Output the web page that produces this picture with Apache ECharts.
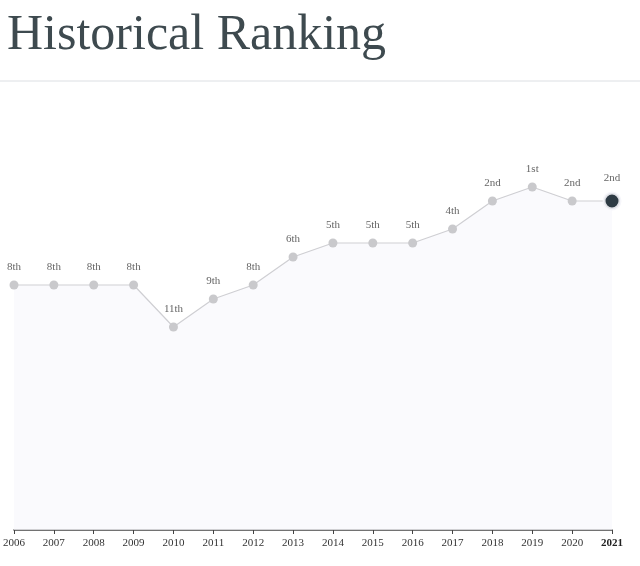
<!DOCTYPE html>
<html>
<head>
<meta charset="utf-8">
<script src="https://cdn.jsdelivr.net/npm/echarts@6/dist/echarts.min.js"></script>
<style>
  body { margin: 0; background: #fff; }
  #chart { width: 640px; height: 566px; }
</style>
</head>
<body>
<div id="chart"></div>
<script>
const years = ['2006','2007','2008','2009','2010','2011','2012','2013','2014','2015','2016','2017','2018','2019','2020','2021'];
const ranks = [8, 8, 8, 8, 11, 9, 8, 6, 5, 5, 5, 4, 2, 1, 2, 2];
const rankLabels = ['8th','8th','8th','8th','11th','9th','8th','6th','5th','5th','5th','4th','2nd','1st','2nd','2nd'];

const chart = echarts.init(document.getElementById('chart'));
const last = ranks.length - 1;

const option = {
  animation: false,
  title: {
    text: 'Historical Ranking',
    left: 2, top: 6,
    textStyle: { fontFamily: 'Liberation Serif', fontWeight: 'normal', fontSize: 50, color: '#3e4a4f' }
  },
  graphic: [{
    type: 'line', shape: { x1: 0, y1: 81, x2: 640, y2: 81 },
    style: { stroke: '#dcdfe3', lineWidth: 1 }
  }],
  grid: { left: 12, right: 28, top: 173, bottom: 36 },
  xAxis: {
    type: 'category',
    data: years,
    boundaryGap: false,
    position: 'bottom',
    axisLine: { onZero: false, lineStyle: { color: '#444', width: 1.5 } },
    axisTick: { lineStyle: { color: '#444' }, length: 4, interval: 0 },
    axisLabel: {
      interval: 0,
      fontFamily: 'Liberation Serif', fontSize: 11, color: '#333', margin: 8,
      formatter: (v) => v === '2021' ? '{b|' + v + '}' : '{n|' + v + '}',
      rich: {
        n: { fontFamily: 'Liberation Serif', fontSize: 11, color: '#333' },
        b: { fontWeight: 'bold', fontFamily: 'Liberation Serif', fontSize: 11, color: '#222' }
      }
    }
  },
  yAxis: {
    type: 'value', inverse: true, min: 0, max: 25.5, show: false
  },
  series: [{
    type: 'line',
    data: ranks.map((r, i) => i === last ? {
      value: r,
      symbolSize: 16,
      itemStyle: { color: '#2e3b44', borderColor: 'rgba(245,245,250,0.9)', borderWidth: 3 }
    } : r),
    symbol: 'circle',
    symbolSize: 9,
    itemStyle: { color: '#c9c9cc' },
    lineStyle: { color: '#cfcfd3', width: 1.2 },
    areaStyle: { color: '#f8f8fc', origin: 'end' },
    label: {
      show: true, position: 'top', distance: 8,
      formatter: (p) => rankLabels[p.dataIndex],
      fontFamily: 'Liberation Serif', fontSize: 11, color: '#666'
    }
  }]
};
chart.setOption(option);
</script>
</body>
</html>
